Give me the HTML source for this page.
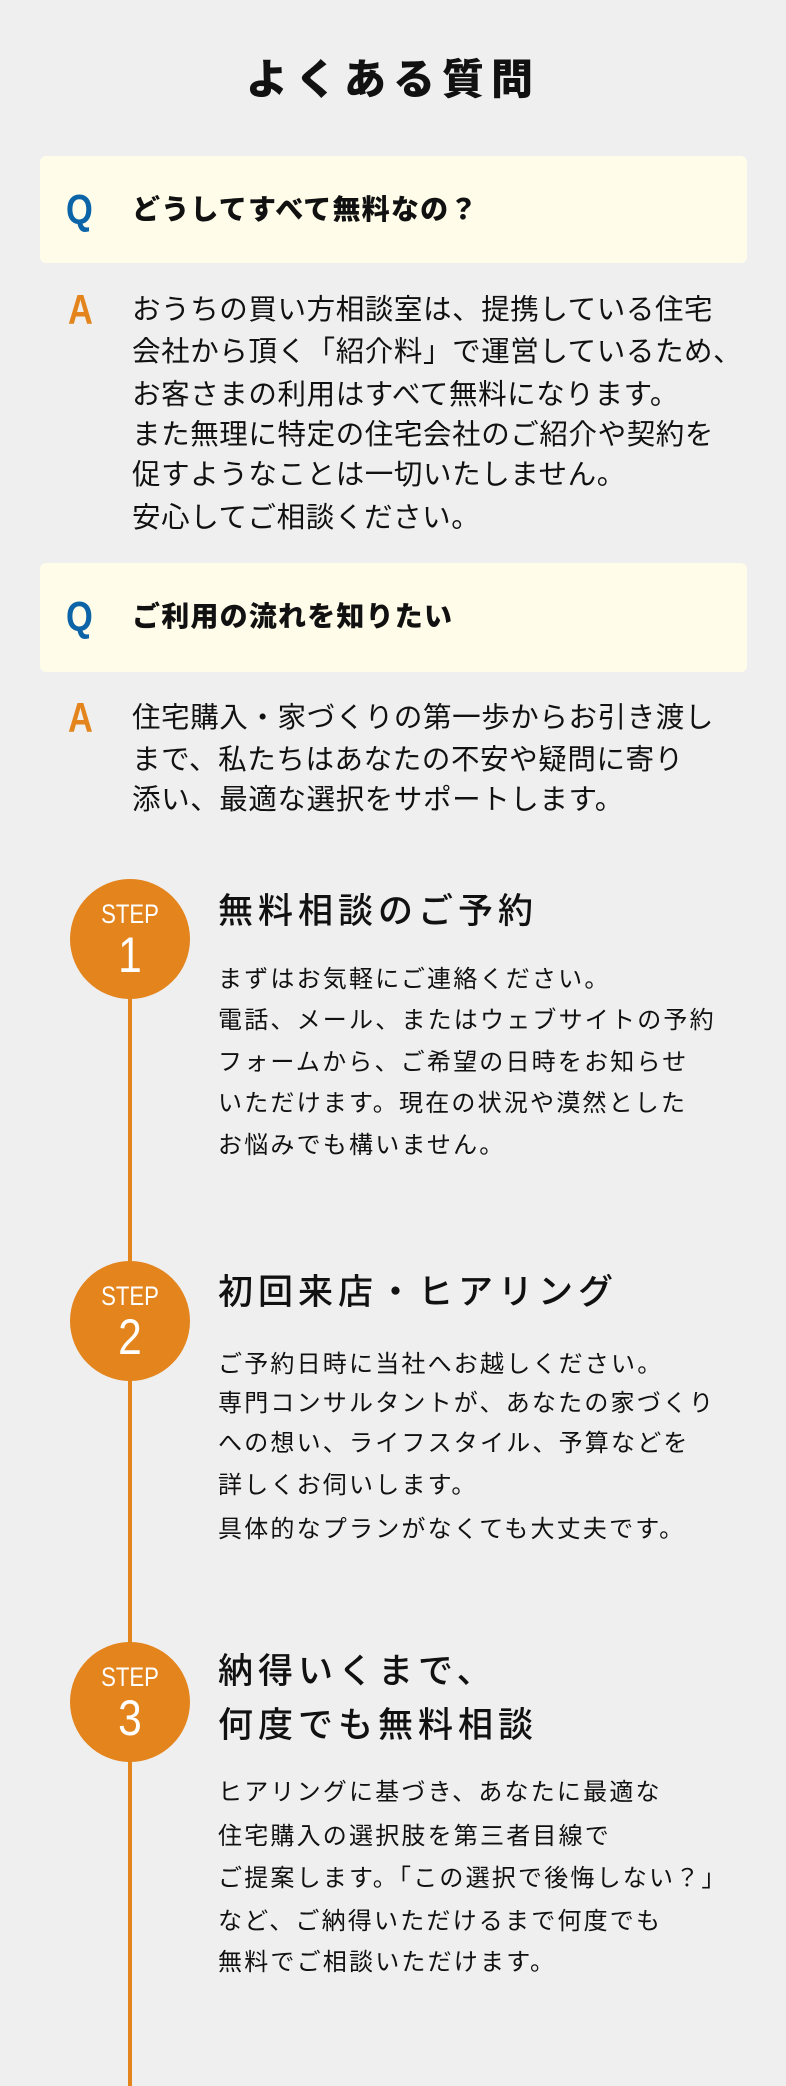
<!DOCTYPE html>
<html><head><meta charset="utf-8"><style>
*{margin:0;padding:0;box-sizing:border-box}
html,body{width:786px;height:2086px;background:#efefef;overflow:hidden}
body{position:relative;font-family:"Liberation Sans","Noto Sans CJK JP",sans-serif;color:#111}
.l{position:absolute;white-space:nowrap;height:40px;line-height:40px}
.qb{position:absolute;left:40px;width:707px;background:#fffce9;border-radius:6px}
.q,.a{position:absolute;left:66px;font-weight:bold;font-size:42px;height:40px;line-height:40px;transform:scaleX(0.82);transform-origin:left center}
.q{color:#0b63a8}.a{color:#e3841c;left:68px}
.qt{font-size:28px;font-weight:900;letter-spacing:1.2px;left:132px}
.at{font-size:28.5px;left:132px;letter-spacing:0.6px}
.c{position:absolute;left:70px;width:120px;height:120px;border-radius:50%;background:#e3841c;color:#fff;text-align:center}
.c .s{position:absolute;top:20px;width:100%;font-size:27px;line-height:30px;transform:scaleX(0.82)}
.c .n{position:absolute;top:50px;width:100%;font-size:50px;line-height:52px;transform:scaleX(0.85)}
.st{font-size:35px;left:218px;letter-spacing:5px;font-weight:500}
.bt{font-size:24px;left:218px;letter-spacing:2.2px}
</style></head><body>
<div class="l" style="top:56px;left:0;width:786px;text-align:center;font-size:42px;font-weight:900;letter-spacing:7px;height:48px;line-height:48px">よくある質問</div>

<div class="qb" style="top:156px;height:107px"></div>
<div class="q" style="top:190px">Q</div>
<div class="l qt" style="top:190px">どうしてすべて無料なの？</div>
<div class="a" style="top:290px">A</div>
<div class="l at" style="top:290px">おうちの買い方相談室は、提携している住宅</div>
<div class="l at" style="top:332px">会社から頂く「紹介料」で運営しているため、</div>
<div class="l at" style="top:375px">お客さまの利用はすべて無料になります。</div>
<div class="l at" style="top:415px">また無理に特定の住宅会社のご紹介や契約を</div>
<div class="l at" style="top:455px">促すようなことは一切いたしません。</div>
<div class="l at" style="top:498px">安心してご相談ください。</div>

<div class="qb" style="top:563px;height:109px"></div>
<div class="q" style="top:597px">Q</div>
<div class="l qt" style="top:597px">ご利用の流れを知りたい</div>
<div class="a" style="top:698px">A</div>
<div class="l at" style="top:698px">住宅購入・家づくりの第一歩からお引き渡し</div>
<div class="l at" style="top:740px">まで、私たちはあなたの不安や疑問に寄り</div>
<div class="l at" style="top:780px">添い、最適な選択をサポートします。</div>

<div style="position:absolute;left:128px;top:940px;width:4px;height:1146px;background:#e3841c"></div>

<div class="c" style="top:879px"><div class="s">STEP</div><div class="n">1</div></div>
<div class="l st" style="top:892px">無料相談のご予約</div>
<div class="l bt" style="top:960px">まずはお気軽にご連絡ください。</div>
<div class="l bt" style="top:1001px">電話、メール、またはウェブサイトの予約</div>
<div class="l bt" style="top:1043px">フォームから、ご希望の日時をお知らせ</div>
<div class="l bt" style="top:1084px">いただけます。現在の状況や漠然とした</div>
<div class="l bt" style="top:1126px">お悩みでも構いません。</div>

<div class="c" style="top:1261px"><div class="s">STEP</div><div class="n">2</div></div>
<div class="l st" style="top:1273px">初回来店・ヒアリング</div>
<div class="l bt" style="top:1345px">ご予約日時に当社へお越しください。</div>
<div class="l bt" style="top:1384px">専門コンサルタントが、あなたの家づくり</div>
<div class="l bt" style="top:1424px">への想い、ライフスタイル、予算などを</div>
<div class="l bt" style="top:1466px">詳しくお伺いします。</div>
<div class="l bt" style="top:1510px">具体的なプランがなくても大丈夫です。</div>

<div class="c" style="top:1642px"><div class="s">STEP</div><div class="n">3</div></div>
<div class="l st" style="top:1652px">納得いくまで、</div>
<div class="l st" style="top:1706px">何度でも無料相談</div>
<div class="l bt" style="top:1773px">ヒアリングに基づき、あなたに最適な</div>
<div class="l bt" style="top:1817px">住宅購入の選択肢を第三者目線で</div>
<div class="l bt" style="top:1859px">ご提案します。「この選択で後悔しない？」</div>
<div class="l bt" style="top:1902px">など、ご納得いただけるまで何度でも</div>
<div class="l bt" style="top:1943px">無料でご相談いただけます。</div>
</body></html>
